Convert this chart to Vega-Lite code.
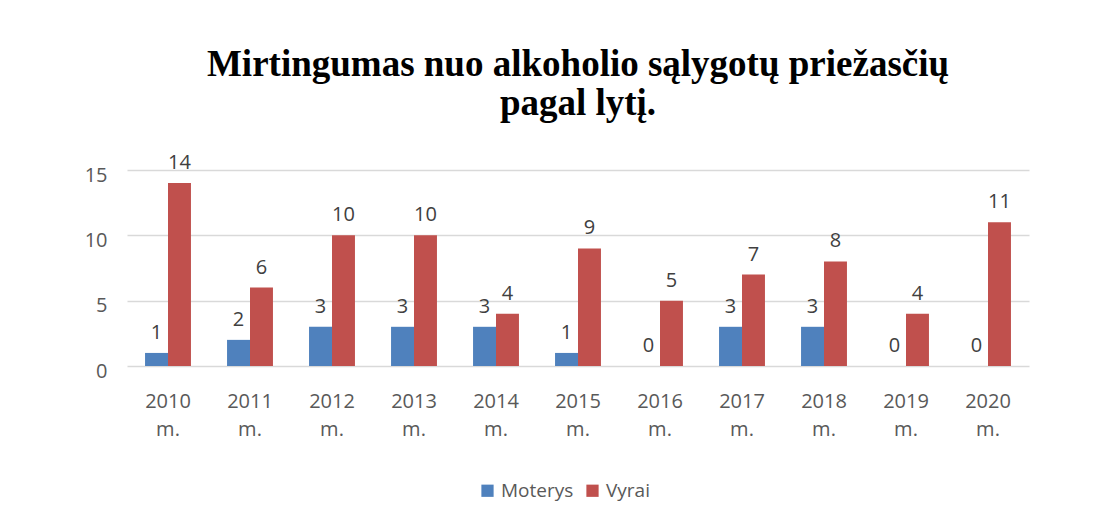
{
  "$schema": "https://vega.github.io/schema/vega-lite/v6.json",
  "autosize": "none",
  "width": 902,
  "height": 196,
  "padding": {"left": 127, "top": 170, "right": 82, "bottom": 154},
  "background": "white",
  "config": {"view": {"stroke": null}},
  "title": {
    "text": ["Mirtingumas nuo alkoholio sąlygotų priežasčių", "pagal lytį."],
    "font": "Liberation Serif",
    "fontSize": 37,
    "fontWeight": "bold",
    "color": "#000000",
    "lineHeight": 39,
    "anchor": "middle",
    "offset": 30
  },
  "data": {
    "values": [
      {"metai": "2010 m.", "lytis": "Moterys", "n": 1},
      {"metai": "2010 m.", "lytis": "Vyrai", "n": 14},
      {"metai": "2011 m.", "lytis": "Moterys", "n": 2},
      {"metai": "2011 m.", "lytis": "Vyrai", "n": 6},
      {"metai": "2012 m.", "lytis": "Moterys", "n": 3},
      {"metai": "2012 m.", "lytis": "Vyrai", "n": 10},
      {"metai": "2013 m.", "lytis": "Moterys", "n": 3},
      {"metai": "2013 m.", "lytis": "Vyrai", "n": 10},
      {"metai": "2014 m.", "lytis": "Moterys", "n": 3},
      {"metai": "2014 m.", "lytis": "Vyrai", "n": 4},
      {"metai": "2015 m.", "lytis": "Moterys", "n": 1},
      {"metai": "2015 m.", "lytis": "Vyrai", "n": 9},
      {"metai": "2016 m.", "lytis": "Moterys", "n": 0},
      {"metai": "2016 m.", "lytis": "Vyrai", "n": 5},
      {"metai": "2017 m.", "lytis": "Moterys", "n": 3},
      {"metai": "2017 m.", "lytis": "Vyrai", "n": 7},
      {"metai": "2018 m.", "lytis": "Moterys", "n": 3},
      {"metai": "2018 m.", "lytis": "Vyrai", "n": 8},
      {"metai": "2019 m.", "lytis": "Moterys", "n": 0},
      {"metai": "2019 m.", "lytis": "Vyrai", "n": 4},
      {"metai": "2020 m.", "lytis": "Moterys", "n": 0},
      {"metai": "2020 m.", "lytis": "Vyrai", "n": 11}
    ]
  },
  "encoding": {
    "x": {
      "field": "metai",
      "type": "nominal",
      "sort": null,
      "scale": {"paddingInner": 0.44, "paddingOuter": 0.22},
      "axis": {
        "title": null,
        "domain": false,
        "ticks": false,
        "labelAngle": 0,
        "labelExpr": "split(datum.label, ' ')",
        "labelFont": "Open Sans",
        "labelFontSize": 20,
        "labelColor": "#595959",
        "labelLineHeight": 28,
        "labelPadding": 25
      }
    },
    "xOffset": {"field": "lytis", "sort": ["Moterys", "Vyrai"]},
    "y": {
      "field": "n",
      "type": "quantitative",
      "scale": {"domain": [0, 15]},
      "axis": {
        "title": null,
        "domain": false,
        "ticks": false,
        "values": [0, 5, 10, 15],
        "labelFont": "Open Sans",
        "labelFontSize": 20,
        "labelColor": "#595959",
        "labelPadding": 20,
        "labelOffset": 5,
        "gridColor": "#d9d9d9",
        "gridWidth": 1.5
      }
    }
  },
  "layer": [
    {
      "mark": {"type": "bar"},
      "encoding": {
        "color": {
          "field": "lytis",
          "type": "nominal",
          "scale": {"domain": ["Moterys", "Vyrai"], "range": ["#4f81bd", "#c0504d"]},
          "legend": {
            "title": null,
            "orient": "none",
            "legendX": 351,
            "legendY": 311,
            "direction": "horizontal",
            "symbolType": "square",
            "symbolSize": 150,
            "symbolStrokeWidth": 0,
            "labelFont": "Open Sans",
            "labelFontSize": 19,
            "labelColor": "#595959",
            "labelOffset": 4,
            "columnPadding": 9
          }
        }
      }
    },
    {
      "mark": {
        "type": "text",
        "baseline": "bottom",
        "dy": -10,
        "font": "Open Sans",
        "fontSize": 20,
        "color": "#404040"
      },
      "encoding": {"text": {"field": "n", "type": "quantitative"}}
    }
  ]
}
